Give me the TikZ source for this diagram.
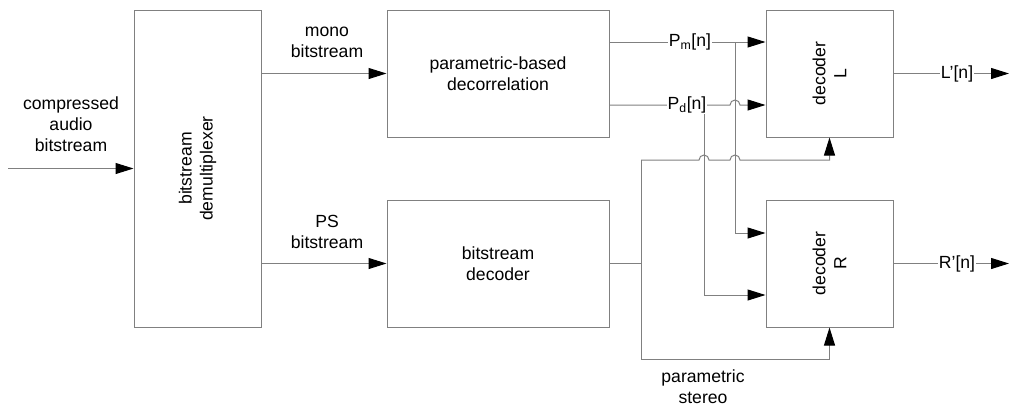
\documentclass[tikz,border=0pt]{standalone}
\usepackage{fontspec}
\setmainfont{Liberation Sans}
\usetikzlibrary{arrows.meta,calc}
\definecolor{lg}{RGB}{128,128,128}
\begin{document}
\begin{tikzpicture}[x=1pt,y=-1pt,
  every node/.append style={font=\fontsize{17.6}{21}\selectfont, inner sep=0pt, align=center},
  box/.style={draw=lg, line width=1pt, fill=none},
  conn/.style={draw=lg, line width=1pt},
  arr/.style={conn, -{Triangle[length=18pt,width=11pt,color=black]}},
  lbl/.style={fill=white, inner sep=1pt}]
\useasboundingbox (0,0) rectangle (1010,408);
% boxes
\node[box, minimum width=127pt, minimum height=317pt] (demux) at (197.5,168.5) {};
\node[rotate=90] (demuxtxt) at (demux.center) {bitstream\\demultiplexer};
\node[box, minimum width=222pt, minimum height=127pt] (decor) at (498,73.5) {parametric-based\\decorrelation};
\node[box, minimum width=222pt, minimum height=127pt] (bsdec) at (498,263.5) {bitstream\\decoder};
\node[box, minimum width=127pt, minimum height=127pt] (decL) at (829.5,73.5) {};
\node[rotate=90] (decLtxt) at (decL.center) {decoder\\L};
\node[box, minimum width=127pt, minimum height=127pt] (decR) at (829.5,263.5) {};
\node[rotate=90] (decRtxt) at (decR.center) {decoder\\R};
% helper coordinates
\coordinate (in) at (8,168.5);
\coordinate (ypm) at (0,42);
\coordinate (ypd) at (0,105);
\coordinate (ytop) at (0,160);
\coordinate (ybot) at (0,359);
\coordinate (yra) at (0,233);
\coordinate (yrb) at (0,295);
\coordinate (xa) at (735,0);
\coordinate (xb) at (704,0);
\coordinate (xc) at (641,0);
\coordinate (outL) at (1009,73.5);
\coordinate (outR) at (1009,263.5);
% input
\draw[arr] (in) -- (demux.west);
\node (intxt) at (71,124) {compressed\\audio\\bitstream};
% demux outputs
\draw[arr] (demux.east |- decor.west) -- (decor.west);
\node (monotxt) at (327,42) {mono\\bitstream};
\draw[arr] (demux.east |- bsdec.west) -- (bsdec.west);
\node (pstxt) at (327,232) {PS\\bitstream};
% decorrelation outputs
\draw[arr] (decor.east |- ypm) -- (decL.west |- ypm);
\draw[arr] (decor.east |- ypd) -- ($(xa |- ypd)+(-5pt,0)$) arc[start angle=180,end angle=0,radius=5pt] -- (decL.west |- ypd);
\draw[arr] (xa |- ypm) -- (xa |- yra) -- (decR.west |- yra);
\draw[arr] (xb |- ypd) -- (xb |- yrb) -- (decR.west |- yrb);
\node[lbl] (pmtxt) at (690,42) {P\textsubscript{m}[n]};
\node[lbl] (pdtxt) at (687,105) {P\textsubscript{d}[n]};
% parametric stereo
\draw[conn] (bsdec.east) -- (xc |- bsdec.east);
\draw[arr] (xc |- ytop) -- ($(xb |- ytop)+(-5pt,0)$) arc[start angle=180,end angle=0,radius=5pt]
  -- ($(xa |- ytop)+(-5pt,0)$) arc[start angle=180,end angle=0,radius=5pt]
  -- (decL.south |- ytop) -- (decL.south);
\draw[arr] (xc |- ytop) -- (xc |- ybot) -- (decR.south |- ybot) -- (decR.south);
\node (pstereo) at (703,387) {parametric\\stereo};
% outputs
\draw[arr] (decL.east) -- (outL);
\node[lbl] (louttxt) at (957,73.5) {L’[n]};
\draw[arr] (decR.east) -- (outR);
\node[lbl] (routtxt) at (957,263.5) {R’[n]};
\end{tikzpicture}
\end{document}
